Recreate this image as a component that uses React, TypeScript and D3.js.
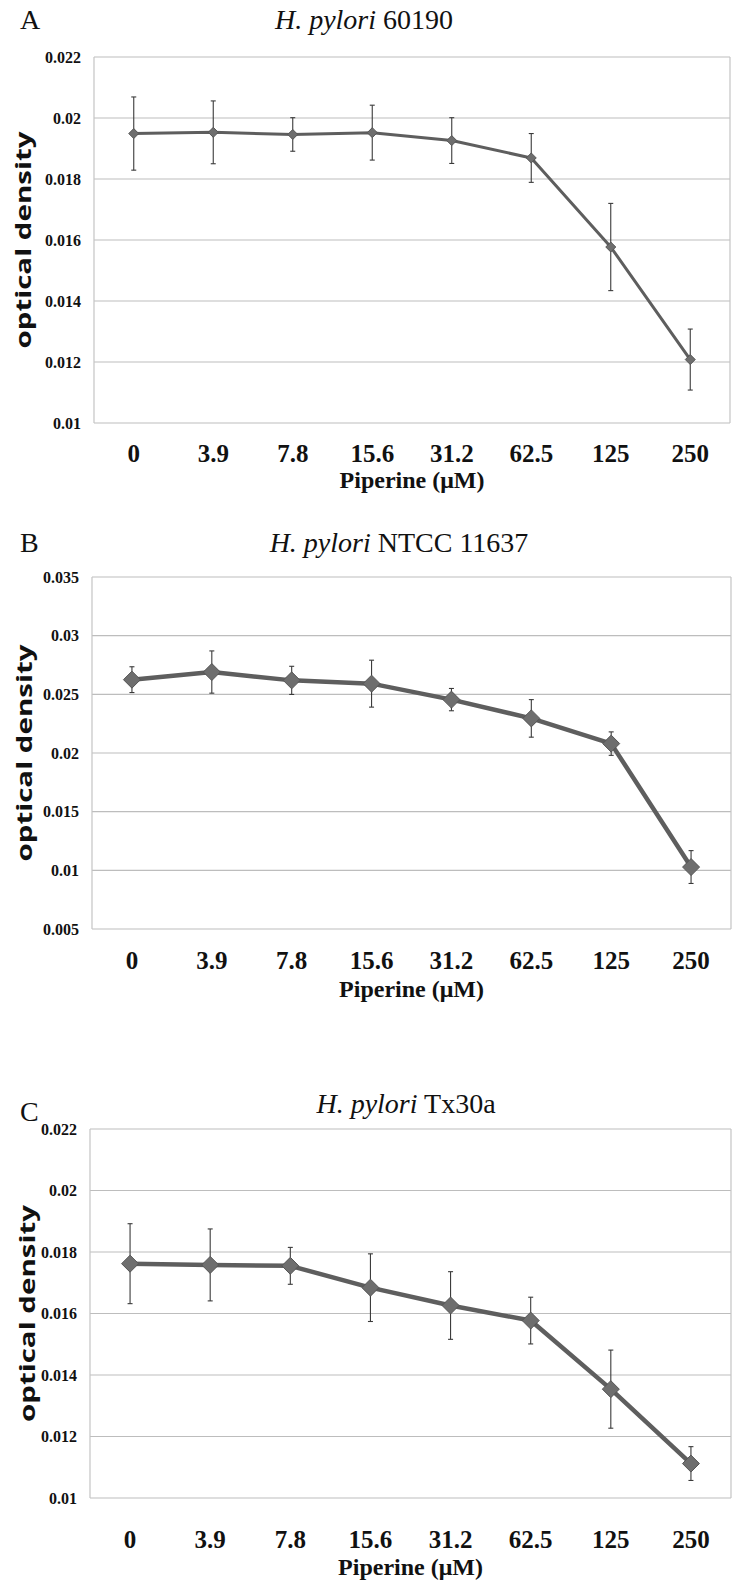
import React from "react";
import * as d3 from "d3";

// ---------- data ----------
const concentrations = ["0", "3.9", "7.8", "15.6", "31.2", "62.5", "125", "250"];

const odA = [0.01949, 0.01953, 0.01946, 0.01952, 0.01926, 0.01869, 0.01577, 0.01208];
const errA = [0.0012, 0.00103, 0.00055, 0.0009, 0.00075, 0.0008, 0.00143, 0.001];

const odB = [0.02625, 0.0269, 0.02619, 0.02591, 0.02455, 0.02295, 0.0208, 0.01028];
const errB = [0.0011, 0.0018, 0.0012, 0.002, 0.00095, 0.0016, 0.001, 0.0014];

const odC = [0.01762, 0.01758, 0.01755, 0.01684, 0.01626, 0.01577, 0.01354, 0.01112];
const errC = [0.0013, 0.00117, 0.0006, 0.0011, 0.0011, 0.00076, 0.00127, 0.00055];

const yTicksA = [0.01, 0.012, 0.014, 0.016, 0.018, 0.02, 0.022];
const yTicksB = [0.005, 0.01, 0.015, 0.02, 0.025, 0.03, 0.035];
const yTicksC = [0.01, 0.012, 0.014, 0.016, 0.018, 0.02, 0.022];

const panelLetters = ["A", "B", "C"];
const strainNames = ["60190", "NTCC 11637", "Tx30a"];
const xAxisTitle = "Piperine (\u03bcM)";
const yAxisTitle = "optical density";

// ---------- layout ----------
const W = 732;
const H = 1582;
const SERIF = "'Liberation Serif', 'Times New Roman', serif";
const SANS = "'Open Sans', 'DejaVu Sans', sans-serif";

type Layout = {
  left: number; right: number; top: number; bottom: number;
  titleX: number; titleY: number; letterX: number; letterY: number;
  yTitleX: number; lineW: number; marker: number; tickDy: number; xTitleDy: number;
};

const layouts: Layout[] = [
  { left: 94, right: 730, top: 57, bottom: 423, titleX: 364, titleY: 29, letterX: 20, letterY: 29, yTitleX: 23, lineW: 3, marker: 5, tickDy: 39, xTitleDy: 65 },
  { left: 92, right: 731, top: 577, bottom: 929, titleX: 399, titleY: 552, letterX: 20, letterY: 552, yTitleX: 24, lineW: 4.5, marker: 8.5, tickDy: 40, xTitleDy: 68 },
  { left: 90, right: 731, top: 1129, bottom: 1498, titleX: 406, titleY: 1113, letterX: 20, letterY: 1121, yTitleX: 27, lineW: 4.5, marker: 8.5, tickDy: 50, xTitleDy: 77 },
];

function Panel({ idx, values, errors, ticks }: { idx: number; values: number[]; errors: number[]; ticks: number[] }) {
  const L = layouts[idx];
  const x = d3.scalePoint<string>().domain(concentrations).range([L.left, L.right]).padding(0.5);
  const y = d3.scaleLinear().domain([ticks[0], ticks[ticks.length - 1]]).range([L.bottom, L.top]);
  const line = d3
    .line<number>()
    .x((_, i) => x(concentrations[i]) as number)
    .y((d) => y(d));
  const m = L.marker;
  const diamond = `M0,${-m}L${m},0L0,${m}L${-m},0Z`;
  const cap = 2.5;

  return (
    <g>
      <text x={L.letterX} y={L.letterY} fontFamily={SERIF} fontSize={28} fill="#111">
        {panelLetters[idx]}
      </text>
      <text x={L.titleX} y={L.titleY} fontFamily={SERIF} fontSize={28} textAnchor="middle" fill="#111">
        <tspan fontStyle="italic">H. pylori</tspan> {strainNames[idx]}
      </text>

      {/* grid */}
      {ticks.map((t) => (
        <line key={t} x1={L.left} x2={L.right} y1={y(t)} y2={y(t)} stroke="#bdbdbd" strokeWidth={1.2} />
      ))}
      <line x1={L.left} x2={L.left} y1={L.top} y2={L.bottom} stroke="#c4c4c4" strokeWidth={1.2} />
      <line x1={L.right} x2={L.right} y1={L.top} y2={L.bottom} stroke="#c4c4c4" strokeWidth={1.2} />

      {/* y tick labels */}
      {ticks.map((t) => (
        <text key={t} x={L.left - 13} y={y(t)} dy="0.35em" textAnchor="end" fontFamily={SERIF} fontWeight="bold" fontSize={16} fill="#111">
          {String(t)}
        </text>
      ))}

      {/* x tick labels */}
      {concentrations.map((c) => (
        <text key={c} x={x(c)} y={L.bottom + L.tickDy} textAnchor="middle" fontFamily={SERIF} fontWeight="bold" fontSize={25} fill="#111">
          {c}
        </text>
      ))}
      <text x={(L.left + L.right) / 2} y={L.bottom + L.xTitleDy} textAnchor="middle" fontFamily={SERIF} fontWeight="bold" fontSize={24} fill="#111">
        {xAxisTitle}
      </text>

      {/* y axis title */}
      <text
        transform={`translate(${L.yTitleX},${(L.top + L.bottom) / 2}) rotate(-90)`}
        textAnchor="middle"
        dy="0.35em"
        fontFamily={SANS}
        fontWeight="bold"
        fontSize={22}
        textLength={217}
        lengthAdjust="spacingAndGlyphs"
        fill="#111"
      >
        {yAxisTitle}
      </text>

      {/* series line */}
      <path d={line(values) || ""} fill="none" stroke="#5e5e5e" strokeWidth={L.lineW} strokeLinejoin="round" />

      {/* error bars */}
      {values.map((v, i) => {
        const cx = x(concentrations[i]) as number;
        const y1 = y(v + errors[i]);
        const y2 = y(v - errors[i]);
        return (
          <g key={i} stroke="#3a3a3a" strokeWidth={1.1}>
            <line x1={cx} x2={cx} y1={y1} y2={y2} />
            <line x1={cx - cap} x2={cx + cap} y1={y1} y2={y1} />
            <line x1={cx - cap} x2={cx + cap} y1={y2} y2={y2} />
          </g>
        );
      })}

      {/* markers */}
      {values.map((v, i) => (
        <path
          key={i}
          d={diamond}
          transform={`translate(${x(concentrations[i])},${y(v)})`}
          fill="#6e6e6e"
          stroke="#555"
          strokeWidth={1}
        />
      ))}
    </g>
  );
}

export default function App() {
  return (
    <div style={{ position: "absolute", left: 0, top: 0 }}>
      <svg width={W} height={H} viewBox={`0 0 ${W} ${H}`} style={{ display: "block", background: "#fff" }}>
        <rect width={W} height={H} fill="#fff" />
        <Panel idx={0} values={odA} errors={errA} ticks={yTicksA} />
        <Panel idx={1} values={odB} errors={errB} ticks={yTicksB} />
        <Panel idx={2} values={odC} errors={errC} ticks={yTicksC} />
      </svg>
    </div>
  );
}
